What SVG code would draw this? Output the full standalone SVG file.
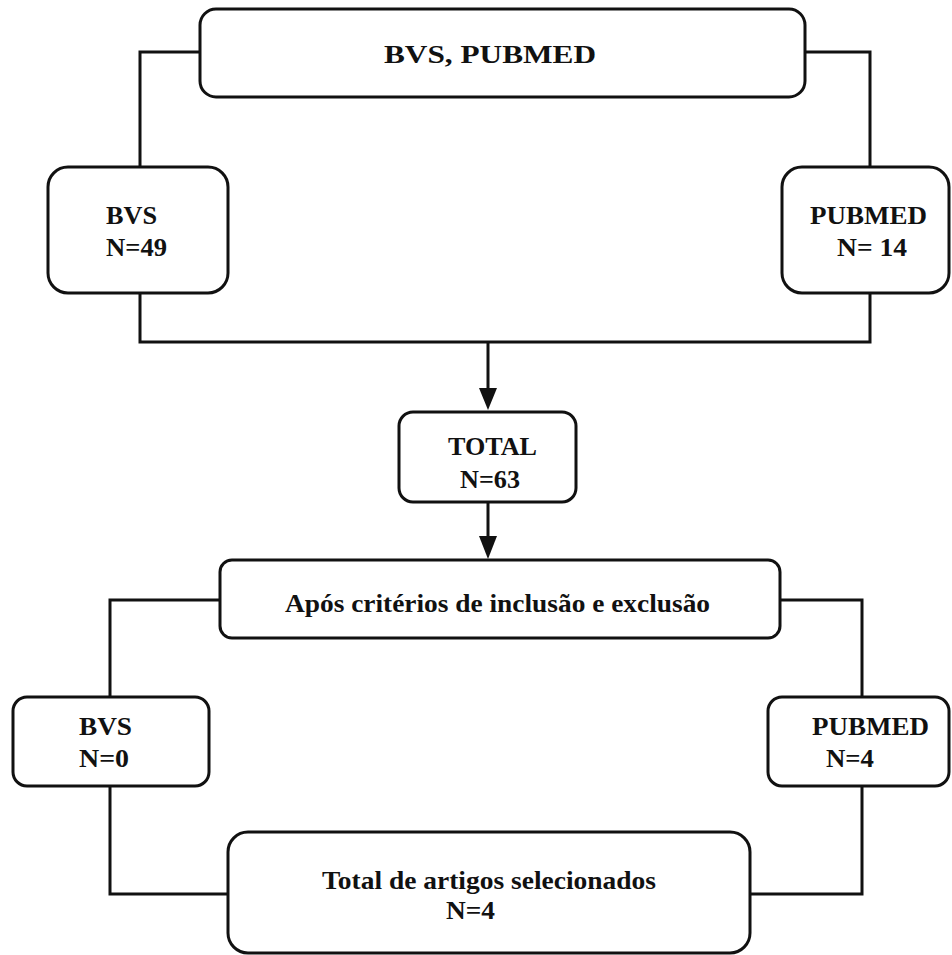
<svg xmlns="http://www.w3.org/2000/svg" width="952" height="955" viewBox="0 0 952 955">
<style>
.box{fill:#fff;stroke:#111;stroke-width:3}
.ln{fill:none;stroke:#111;stroke-width:3}
text{font-family:"Liberation Serif","Times New Roman",serif;font-weight:bold;font-size:26px;fill:#111}
</style>
<rect width="952" height="955" fill="#fff"/>
<g id="connectors">
<path class="ln" d="M200,52 H140 V167"/>
<path class="ln" d="M805,52 H870 V167"/>
<path class="ln" d="M140,293 V342 H870 V293"/>
<path class="ln" d="M488,342 V396"/>
<path d="M479,388 L497,388 L488,410 Z" fill="#111"/>
<path class="ln" d="M488,502 V545"/>
<path d="M479,536 L497,536 L488,559 Z" fill="#111"/>
<path class="ln" d="M220,600 H110 V697"/>
<path class="ln" d="M780,600 H862 V697"/>
<path class="ln" d="M110,786 V894 H228"/>
<path class="ln" d="M750,894 H862 V786"/>
</g>
<g id="n-top">
<rect class="box" x="200" y="9" width="605" height="88" rx="16"/>
<text x="384" y="63" textLength="212" lengthAdjust="spacingAndGlyphs">BVS, PUBMED</text>
</g>
<g id="n-bvs1">
<rect class="box" x="48" y="167" width="180" height="126" rx="20" stroke="#333"/>
<text x="106" y="224" textLength="51" lengthAdjust="spacingAndGlyphs">BVS</text>
<text x="106" y="256" textLength="61" lengthAdjust="spacingAndGlyphs">N=49</text>
</g>
<g id="n-pubmed1">
<rect class="box" x="782" y="167" width="167" height="126" rx="20"/>
<text x="810" y="224" textLength="117" lengthAdjust="spacingAndGlyphs">PUBMED</text>
<text x="837" y="256" textLength="70" lengthAdjust="spacingAndGlyphs">N= 14</text>
</g>
<g id="n-total">
<rect class="box" x="399" y="412" width="177" height="90" rx="14"/>
<text x="448" y="455" textLength="89" lengthAdjust="spacingAndGlyphs">TOTAL</text>
<text x="460" y="488" textLength="60" lengthAdjust="spacingAndGlyphs">N=63</text>
</g>
<g id="n-criteria">
<rect class="box" x="220" y="560" width="560" height="78" rx="12"/>
<text x="285" y="612" textLength="425" lengthAdjust="spacingAndGlyphs">Após critérios de inclusão e exclusão</text>
</g>
<g id="n-bvs2">
<rect class="box" x="13" y="697" width="196" height="89" rx="14"/>
<text x="79" y="735" textLength="53" lengthAdjust="spacingAndGlyphs">BVS</text>
<text x="79" y="767" textLength="50" lengthAdjust="spacingAndGlyphs">N=0</text>
</g>
<g id="n-pubmed2">
<rect class="box" x="768" y="697" width="181" height="89" rx="14"/>
<text x="812" y="735" textLength="117" lengthAdjust="spacingAndGlyphs">PUBMED</text>
<text x="826" y="767" textLength="48" lengthAdjust="spacingAndGlyphs">N=4</text>
</g>
<g id="n-final">
<rect class="box" x="228" y="832" width="522" height="121" rx="20"/>
<text x="322" y="889" textLength="334" lengthAdjust="spacingAndGlyphs">Total de artigos selecionados</text>
<text x="446" y="919" textLength="49" lengthAdjust="spacingAndGlyphs">N=4</text>
</g>
</svg>
